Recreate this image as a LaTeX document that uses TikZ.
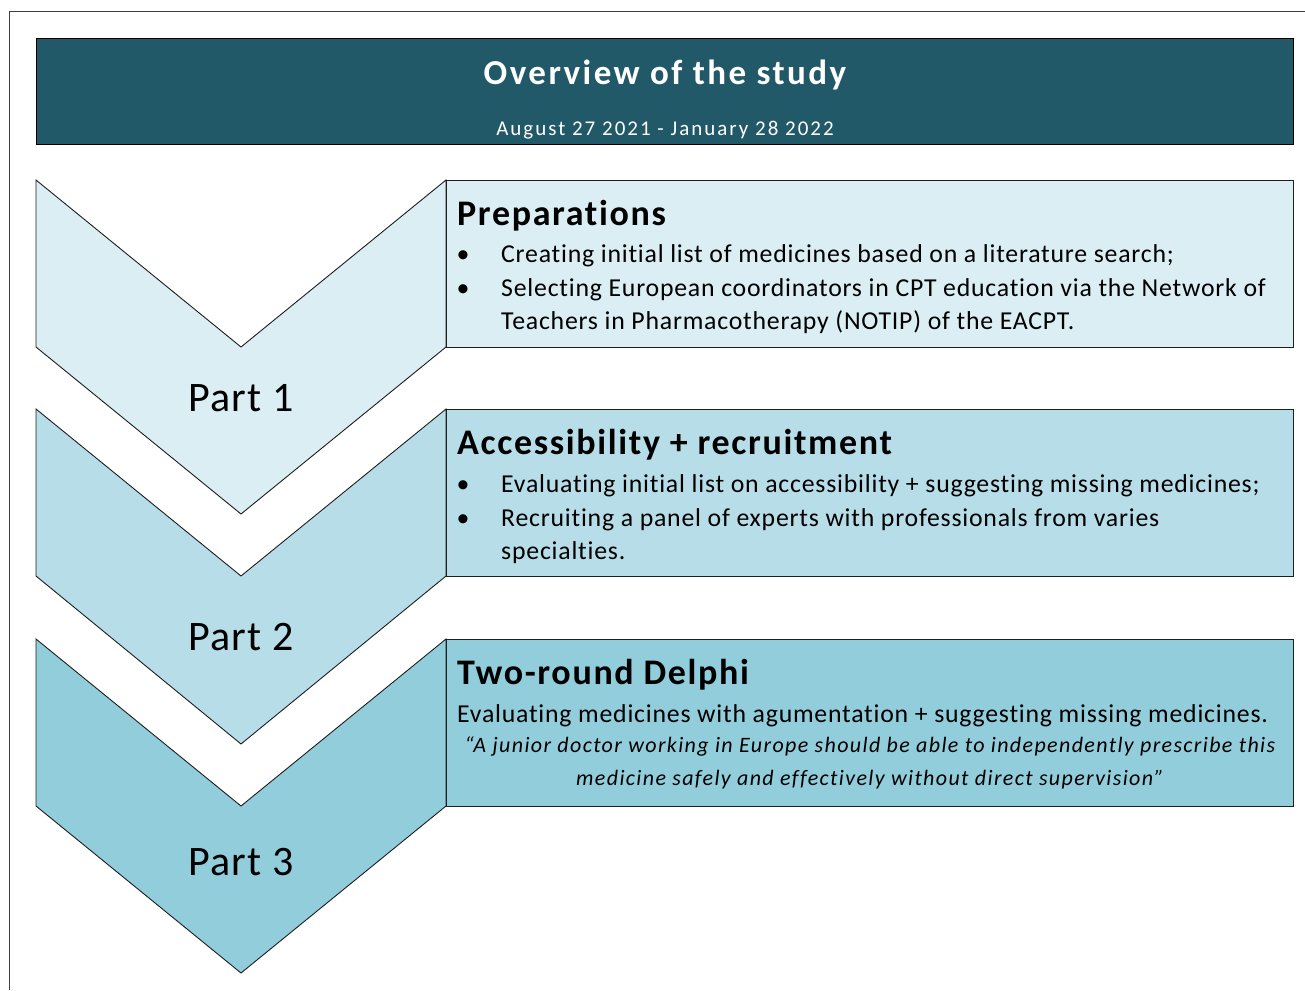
\documentclass[tikz,border=0pt]{standalone}
\usepackage{fontspec}
\setmainfont{Carlito}[Ligatures=NoCommon]
\newfontfamily\ttlfont{Carlito}[LetterSpace=7,Ligatures=NoCommon]
\newfontfamily\subfont{Carlito}[LetterSpace=9.5,Ligatures=NoCommon]
\newfontfamily\headfont{Carlito}[LetterSpace=4.6,Ligatures=NoCommon]
\newfontfamily\bodyfont{Carlito}[LetterSpace=3,Ligatures=NoCommon]
\newfontfamily\quotefont{Carlito}[LetterSpace=6.2,Ligatures=NoCommon]
\newfontfamily\partfont{Carlito}[LetterSpace=2.6,Ligatures=NoCommon]
\definecolor{hdr}{HTML}{215968}
\definecolor{cA}{HTML}{DAEEF3}
\definecolor{cB}{HTML}{B7DEE8}
\definecolor{cC}{HTML}{92CDDC}
\definecolor{edge}{HTML}{1E1E1E}
\tikzset{
  shp/.style={draw=edge, line width=0.9pt, line join=miter},
  ttl/.style={anchor=base, inner sep=0, text=white, font=\ttlfont\bfseries\fontsize{35}{42}\selectfont},
  sub/.style={anchor=base, inner sep=0, text=white, font=\subfont\fontsize{21}{25}\selectfont},
  part/.style={anchor=base, inner sep=0, font=\partfont\fontsize{42}{50}\selectfont},
  head/.style={anchor=base west, inner sep=0, font=\headfont\bfseries\fontsize{36}{43}\selectfont},
  body/.style={anchor=base west, inner sep=0, font=\bodyfont\fontsize{25.8}{31}\selectfont},
  quote/.style={anchor=base, inner sep=0, font=\quotefont\itshape\fontsize{22}{27}\selectfont},
  bul/.style={anchor=base, inner sep=0, font=\fontsize{25.8}{31}\selectfont},
}
\begin{document}
\begin{tikzpicture}[x=1pt,y=-1pt]
\useasboundingbox (0,0) rectangle (1305,990);
% outer frame
\coordinate (fTL) at (9,12);
\coordinate (fTR) at (1305,12);
\coordinate (fBL) at (9,990);
\draw[line width=1pt, draw=black!75] (fTR) -- (fTL) -- (fBL);
% header
\node[draw=black, line width=1pt, fill=hdr, minimum width=1257pt, minimum height=106pt, inner sep=0, anchor=north west] (header) at (36,38) {};
\node[ttl] (title) at (665,84) {Overview of the study};
\node[sub] (dates) at (665,135) {August 27 2021 - January 28 2022};
% Part 1
\draw[shp, fill=cA] (36,180) -- (241,347) -- (446,180) -- (446,347) -- (241,514) -- (36,347) -- cycle;
\node[shp, fill=cA, minimum width=847pt, minimum height=167pt, inner sep=0, anchor=north west] (box1) at (446,180) {};
\node[part] (p1) at (241,411) {Part 1};
\node[head] (h1) at (457,225) {Preparations};
\node[bul] (b11) at (463,262) {•};
\node[body] (t11) at (501,262) {Creating initial list of medicines based on a literature search;};
\node[bul] (b12) at (463,296) {•};
\node[body] (t12) at (501,296) {Selecting European coordinators in CPT education via the Network of};
\node[body] (t13) at (501,329) {Teachers in Pharmacotherapy (NOTIP) of the EACPT.};
% Part 2
\draw[shp, fill=cB] (36,409) -- (241,576) -- (446,409) -- (446,576) -- (241,744) -- (36,576) -- cycle;
\node[shp, fill=cB, minimum width=847pt, minimum height=167pt, inner sep=0, anchor=north west] (box2) at (446,409) {};
\node[part] (p2) at (241,650) {Part 2};
\node[head] (h2) at (457,454) {Accessibility + recruitment};
\node[bul] (b21) at (463,492) {•};
\node[body] (t21) at (501,492) {Evaluating initial list on accessibility + suggesting missing medicines;};
\node[bul] (b22) at (463,526) {•};
\node[body] (t22) at (501,526) {Recruiting a panel of experts with professionals from varies};
\node[body] (t23) at (501,559) {specialties.};
% Part 3
\draw[shp, fill=cC] (36,639) -- (241,806) -- (446,639) -- (446,806) -- (241,973) -- (36,806) -- cycle;
\node[shp, fill=cC, minimum width=847pt, minimum height=167pt, inner sep=0, anchor=north west] (box3) at (446,639) {};
\node[part] (p3) at (241,875) {Part 3};
\node[head] (h3) at (457,684) {Two-round Delphi};
\node[body] (t31) at (457,722) {Evaluating medicines with agumentation + suggesting missing medicines.};
\node[quote] (q1) at (870,752) {“A junior doctor working in Europe should be able to independently prescribe this};
\node[quote] (q2) at (870,785) {medicine safely and effectively without direct supervision”};
\end{tikzpicture}
\end{document}
